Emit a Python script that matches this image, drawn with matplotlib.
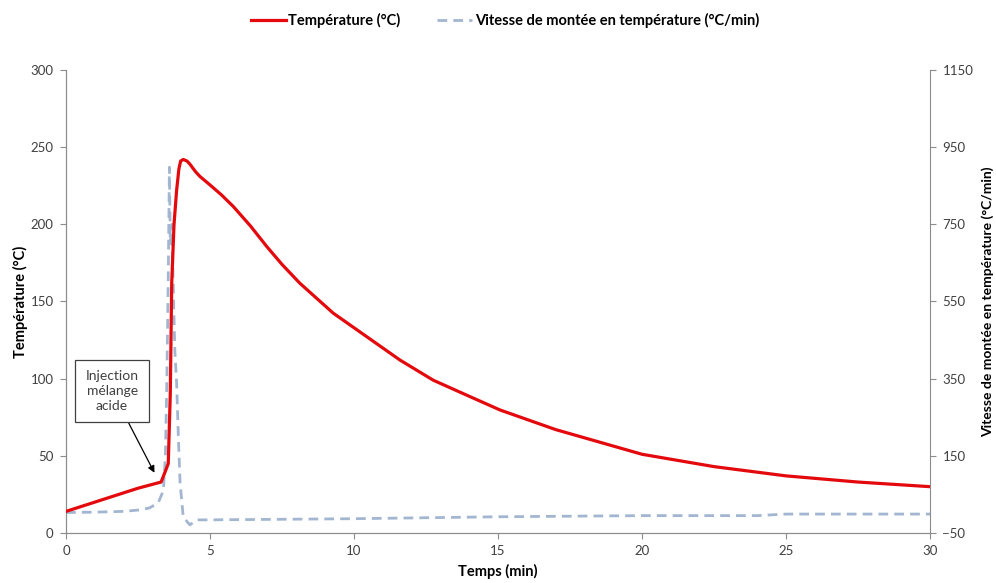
import numpy as np
import matplotlib
matplotlib.use("Agg")
import matplotlib.pyplot as plt

plt.rcParams['font.family'] = ['Lato', 'DejaVu Sans']

# temperature curve (min, degC)
temps_t = [0.0, 0.5, 1.0, 1.5, 2.0, 2.5, 3.0, 3.3, 3.45, 3.55, 3.62, 3.67, 3.75,
           3.84, 3.92, 3.98, 4.07, 4.2, 4.3, 4.5, 4.65, 5.0, 5.4, 5.81, 6.4,
           6.97, 7.5, 8.12, 9.28, 10.44, 11.6, 12.75, 13.9, 15.07, 17.0, 20.0,
           22.5, 25.0, 27.5, 30.0]
temps = [14, 17, 20, 23, 26, 29, 31.5, 33, 40, 45, 90, 162, 200,
         222, 236, 241, 242, 241, 239, 234, 231, 225.5, 219, 211.5, 199,
         185.6, 174, 161.8, 142.4, 127.2, 112, 99, 89.4, 79.7, 67, 51,
         43, 37, 33, 30]

# rate of temperature rise (min, degC/min)
rate_t = [0.0, 1.0, 2.0, 2.6, 2.9, 3.2, 3.38, 3.45, 3.5, 3.55, 3.59, 3.62, 3.68,
          3.73, 3.78, 3.84, 3.9, 3.96, 4.07, 4.3, 4.54, 5.0, 10.0, 15.0, 20.0,
          24.0, 25.0, 30.0]
rate = [3, 4, 6, 10, 15, 28, 60, 150, 339, 613, 898, 700, 750,
        560, 420, 339, 200, 80, -9, -29, -16, -16, -13, -8, -5, -5, -1, -1]

fig = plt.figure(figsize=(9.96, 5.83), dpi=100)
ax = fig.add_axes([0.0663, 0.0858, 0.8674, 0.7942])
ax2 = ax.twinx()

l1, = ax.plot(temps_t, temps, color='#e3090d', lw=2.3,
              label='Température (°C)', zorder=3)
l2, = ax2.plot(rate_t, rate, color='#a3b6d1', lw=2.0, ls=(0, (3.5, 2.2)),
               label='Vitesse de montée en température (°C/min)')
ax.set_zorder(ax2.get_zorder() + 1)
ax.patch.set_visible(False)

ax.set_xlim(0, 30)
ax.set_ylim(0, 300)
ax.set_xticks([0, 5, 10, 15, 20, 25, 30])
ax.set_yticks(np.arange(0, 301, 50))
ax2.set_ylim(-50, 1150)
ax2.set_yticks(np.arange(-50, 1151, 200))

gray = '#8c8c8c'
for a in (ax, ax2):
    for s in a.spines.values():
        s.set_color(gray)
    a.spines['top'].set_visible(False)
    a.tick_params(colors=gray, labelcolor='#404040', labelsize=9.5,
                  length=4, width=0.8, pad=5)
ax.spines['right'].set_visible(False)

ax.set_xlabel('Temps (min)', fontsize=10.5, fontweight='bold', labelpad=5)
ax.set_ylabel('Température (°C)', fontsize=10.5, fontweight='bold', labelpad=2)
ax2.set_ylabel('Vitesse de montée en température (°C/min)', fontsize=10,
               fontweight='bold', labelpad=6)

ax.annotate('Injection\nmélange\nacide', xy=(3.07, 39), xytext=(1.6, 92),
            ha='center', va='center', fontsize=10, color='#404040',
            linespacing=1.3,
            bbox=dict(boxstyle='square,pad=0.75', fc='white', ec='#404040',
                      lw=0.9),
            arrowprops=dict(arrowstyle='-|>', color='black', lw=0.9,
                            shrinkA=0, shrinkB=0, mutation_scale=10))

fig.legend(handles=[l1, l2], loc='upper center', bbox_to_anchor=(0.507, 1.0),
           ncol=2, frameon=False, prop={'size': 10.5, 'weight': 'bold'},
           handlelength=2.4, columnspacing=2.5, handletextpad=0.2)

fig.savefig('out.png', dpi=100)
